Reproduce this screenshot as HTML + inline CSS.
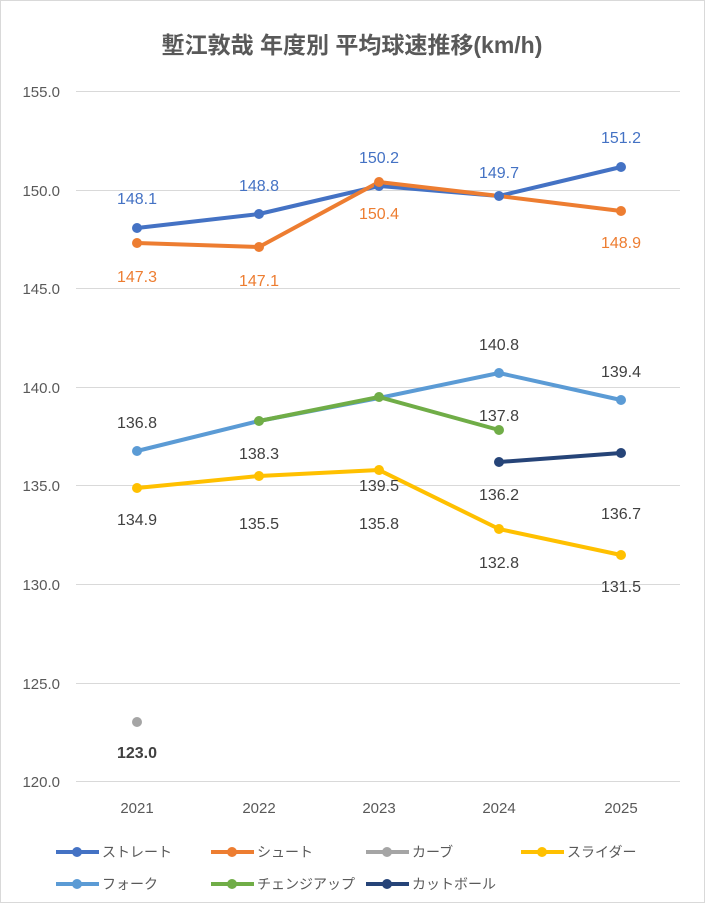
<!DOCTYPE html><html><head><meta charset="utf-8"><style>body{margin:0;background:#fff}svg{display:block}text{font-family:"Liberation Sans","Noto Sans CJK JP",sans-serif}</style></head><body>
<svg width="705" height="903" xmlns="http://www.w3.org/2000/svg">
<rect x="0.5" y="0.5" width="704" height="902" fill="#fff" stroke="#d9d9d9"/>
<text x="352" y="53" text-anchor="middle" font-size="23" font-weight="bold" fill="#595959" font-family="Noto Sans CJK JP, sans-serif">塹江敦哉 年度別 平均球速推移(km/h)</text>
<g stroke="#d9d9d9" stroke-width="1">
<line x1="76" x2="680" y1="91.5" y2="91.5"/><line x1="76" x2="680" y1="190.5" y2="190.5"/><line x1="76" x2="680" y1="288.5" y2="288.5"/><line x1="76" x2="680" y1="387.5" y2="387.5"/><line x1="76" x2="680" y1="485.5" y2="485.5"/><line x1="76" x2="680" y1="584.5" y2="584.5"/><line x1="76" x2="680" y1="683.5" y2="683.5"/><line x1="76" x2="680" y1="781.5" y2="781.5"/></g>
<g font-size="15" fill="#595959" text-anchor="end">
<text x="60" y="97">155.0</text><text x="60" y="196">150.0</text><text x="60" y="294">145.0</text><text x="60" y="393">140.0</text><text x="60" y="491">135.0</text><text x="60" y="590">130.0</text><text x="60" y="689">125.0</text><text x="60" y="787">120.0</text></g>
<g font-size="15" fill="#595959" text-anchor="middle">
<text x="137" y="813">2021</text><text x="259" y="813">2022</text><text x="379" y="813">2023</text><text x="499" y="813">2024</text><text x="621" y="813">2025</text></g>
<g fill="none" stroke-width="4" stroke-linejoin="round">
<polyline stroke="#5B9BD5" points="137,451 259,421 379,398 499,373 621,400"/>
<polyline stroke="#70AD47" points="259,421 379,397 499,430"/>
<polyline stroke="#FFC000" points="137,488 259,476 379,470 499,529 621,555"/>
<polyline stroke="#264478" points="499,462 621,453"/>
<polyline stroke="#4472C4" points="137,228 259,214 379,186 499,196 621,167"/>
<polyline stroke="#ED7D31" points="137,243 259,247 379,182 499,196 621,211"/>
</g>
<g stroke="none">
<g fill="#5B9BD5"><circle cx="137" cy="451" r="5"/><circle cx="499" cy="373" r="5"/><circle cx="621" cy="400" r="5"/></g>
<g fill="#70AD47"><circle cx="259" cy="421" r="5"/><circle cx="379" cy="397" r="5"/><circle cx="499" cy="430" r="5"/></g>
<g fill="#FFC000"><circle cx="137" cy="488" r="5"/><circle cx="259" cy="476" r="5"/><circle cx="379" cy="470" r="5"/><circle cx="499" cy="529" r="5"/><circle cx="621" cy="555" r="5"/></g>
<g fill="#264478"><circle cx="499" cy="462" r="5"/><circle cx="621" cy="453" r="5"/></g>
<g fill="#4472C4"><circle cx="137" cy="228" r="5"/><circle cx="259" cy="214" r="5"/><circle cx="379" cy="186" r="5"/><circle cx="499" cy="196" r="5"/><circle cx="621" cy="167" r="5"/></g>
<g fill="#ED7D31"><circle cx="137" cy="243" r="5"/><circle cx="259" cy="247" r="5"/><circle cx="379" cy="182" r="5"/><circle cx="621" cy="211" r="5"/></g>
<circle cx="137" cy="722" r="5" fill="#A5A5A5"/>
</g>
<g font-size="16" text-anchor="middle">
<g fill="#4472C4"><text x="137" y="204">148.1</text><text x="259" y="191">148.8</text><text x="379" y="163">150.2</text><text x="499" y="178">149.7</text><text x="621" y="143">151.2</text></g>
<g fill="#ED7D31"><text x="137" y="282">147.3</text><text x="259" y="286">147.1</text><text x="379" y="219">150.4</text><text x="621" y="248">148.9</text></g>
<text x="137" y="758" fill="#404040" font-weight="bold">123.0</text>
<g fill="#404040"><text x="137" y="428">136.8</text><text x="499" y="350">140.8</text><text x="621" y="377">139.4</text>
<text x="259" y="459">138.3</text><text x="379" y="491">139.5</text><text x="499" y="421">137.8</text>
<text x="499" y="500">136.2</text><text x="621" y="519">136.7</text>
<text x="137" y="525">134.9</text><text x="259" y="529">135.5</text><text x="379" y="529">135.8</text><text x="499" y="568">132.8</text><text x="621" y="592">131.5</text></g>
</g>
<g font-size="14" fill="#595959" font-family="Noto Sans CJK JP, sans-serif">
<g stroke-width="4"><line x1="56" x2="99" y1="852" y2="852" stroke="#4472C4"/><line x1="211" x2="254" y1="852" y2="852" stroke="#ED7D31"/><line x1="366" x2="409" y1="852" y2="852" stroke="#A5A5A5"/><line x1="521" x2="564" y1="852" y2="852" stroke="#FFC000"/>
<line x1="56" x2="99" y1="884" y2="884" stroke="#5B9BD5"/><line x1="211" x2="254" y1="884" y2="884" stroke="#70AD47"/><line x1="366" x2="409" y1="884" y2="884" stroke="#264478"/></g>
<circle cx="77" cy="852" r="5" fill="#4472C4"/><circle cx="232" cy="852" r="5" fill="#ED7D31"/><circle cx="387" cy="852" r="5" fill="#A5A5A5"/><circle cx="542" cy="852" r="5" fill="#FFC000"/>
<circle cx="77" cy="884" r="5" fill="#5B9BD5"/><circle cx="232" cy="884" r="5" fill="#70AD47"/><circle cx="387" cy="884" r="5" fill="#264478"/>
<text x="102" y="857">ストレート</text><text x="257" y="857">シュート</text><text x="412" y="857">カーブ</text><text x="567" y="857">スライダー</text>
<text x="102" y="889">フォーク</text><text x="257" y="889">チェンジアップ</text><text x="412" y="889">カットボール</text>
</g>
</svg></body></html>
